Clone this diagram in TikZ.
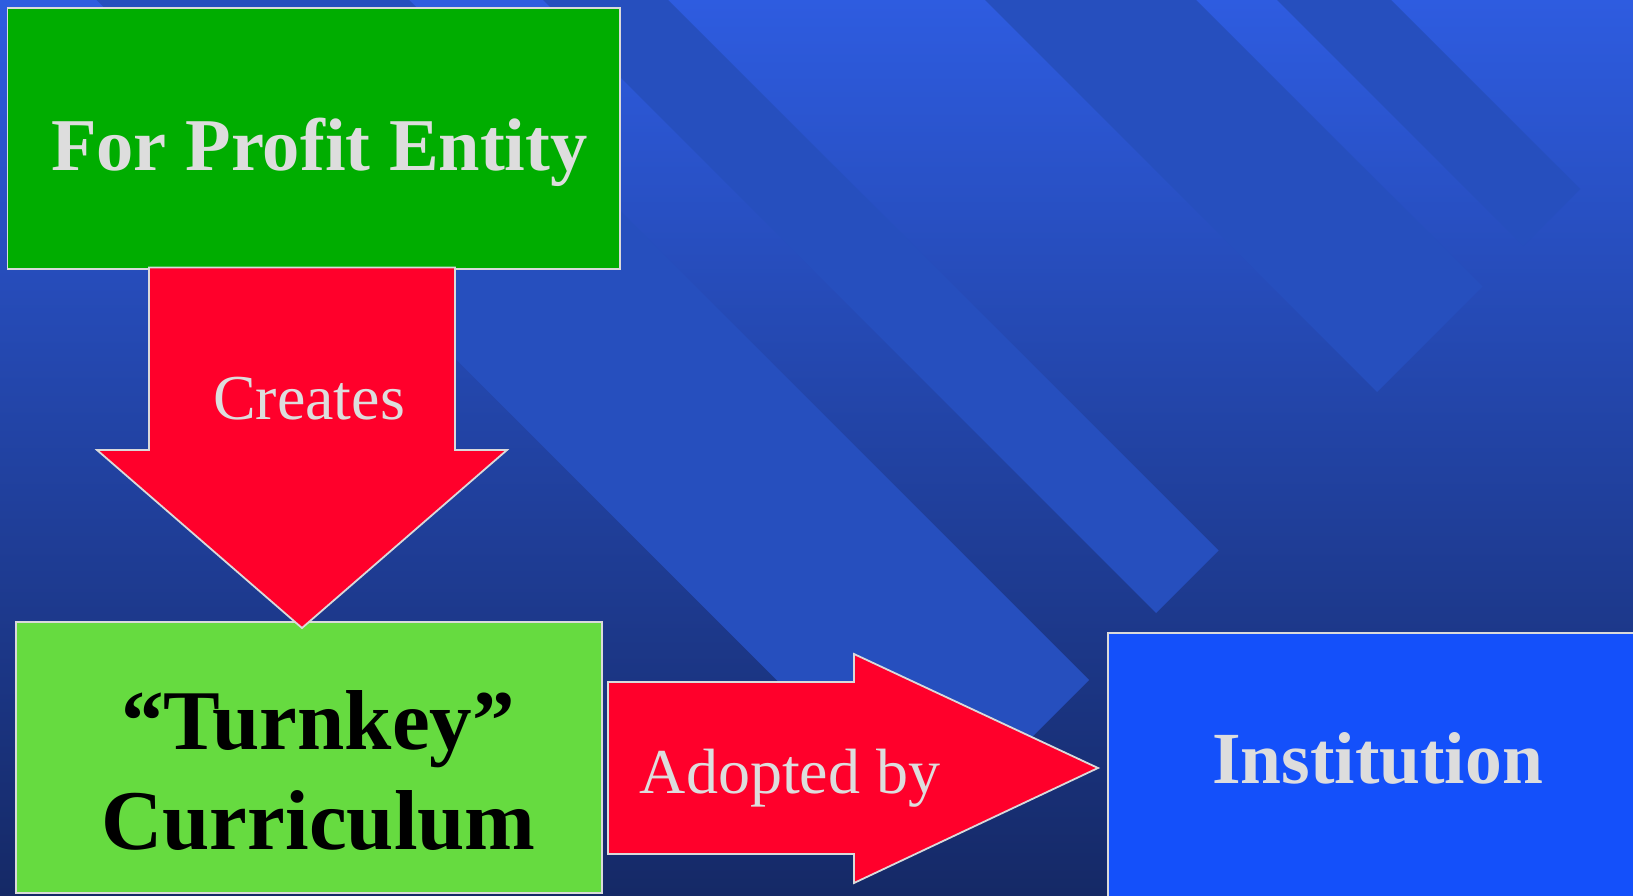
\documentclass[tikz,border=0pt]{standalone}
\usepackage{fontspec}
\setmainfont{Liberation Serif}[Ligatures=CommonOff]
\definecolor{bgtop}{RGB}{46,92,224}
\definecolor{bgbot}{RGB}{21,41,102}
\definecolor{stripecol}{RGB}{38,79,190}
\definecolor{boxgreen}{RGB}{0,173,0}
\definecolor{lightgreen}{RGB}{102,219,64}
\definecolor{arrowred}{RGB}{255,0,43}
\definecolor{boxblue}{RGB}{20,80,250}
\definecolor{txtgray}{RGB}{221,221,221}
\definecolor{edgegray}{RGB}{218,218,218}
\tikzset{
  outlined/.style={draw=edgegray, line width=1.8pt, line join=miter},
  stripeband/.style={fill=stripecol, draw=none},
  txt/.style={anchor=base, inner sep=0pt, outer sep=0pt},
  boldtxt/.style={txt, font=\fontsize{#1}{#1}\selectfont\bfseries},
  regtxt/.style={txt, font=\fontsize{#1}{#1}\selectfont}
}
\begin{document}
\begin{tikzpicture}[x=1pt,y=-1pt]
\useasboundingbox (0,0) rectangle (1633,896);
% background
\shade[top color=bgtop, bottom color=bgbot] (0,0) rectangle (1633,896);
% diagonal stripes
\fill[stripeband] (96.6,0) -- (409,0) -- (1089,680) -- (932.8,836.2) -- cycle;
\fill[stripeband] (543,0) -- (668,0) -- (1218.5,550.5) -- (1156,613) -- cycle;
\fill[stripeband] (985,0) -- (1196,0) -- (1482.5,286.5) -- (1377,392) -- cycle;
\fill[stripeband] (1277,0) -- (1391,0) -- (1580,189) -- (1523,246) -- cycle;
% boxes
\path[outlined, fill=boxgreen] (7.5,8) rectangle (620,269);
\coordinate (fpeS) at (302,268);
\path[outlined, fill=lightgreen] (15.6,622) rectangle (602,893);
\path[outlined, fill=boxblue] (1108,633) rectangle (1645,905);
% down arrow (Creates)
\path[outlined, fill=arrowred] (149,267.5) -- (455,267.5) -- (455,450) -- (507,450)
  -- (302,628) -- (97,450) -- (149,450) -- cycle;
% right arrow (Adopted by)
\path[outlined, fill=arrowred] (608,682) -- (854,682) -- (854,654) -- (1098,768)
  -- (854,883) -- (854,854) -- (608,854) -- cycle;
% texts
\node[boldtxt=74.5, text=txtgray] (fpe) at (319.5,171) {For Profit Entity};
\node[regtxt=64, text=txtgray] (creates) at (309,419) {Creates};
\node[boldtxt=85, text=black] (turnkey) at (318,749) {“Turnkey”};
\node[boldtxt=85, text=black] (curriculum) at (318.5,849) {Curriculum};
\node[regtxt=64, text=txtgray] (adopted) at (790,793) {Adopted by};
\node[boldtxt=73.5, text=txtgray] (institution) at (1377.5,783) {Institution};
\end{tikzpicture}
\end{document}
